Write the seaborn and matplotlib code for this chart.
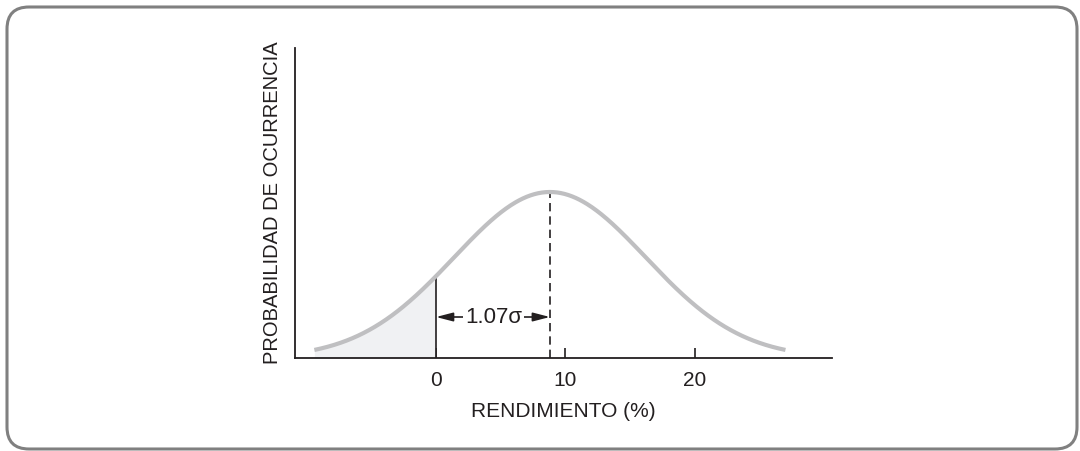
import numpy as np
import pandas as pd
import matplotlib
matplotlib.use("Agg")
import matplotlib.pyplot as plt
from matplotlib.patches import FancyBboxPatch
from matplotlib.transforms import IdentityTransform
import seaborn as sns

# ---- data ----
RETURN_MEAN = 8.8          # expected return (%), position of the peak
RETURN_SD = 7.4            # spread of the drawn curve (%)
CURVE_HALF_SPAN = 18.2     # curve drawn from mean - span to mean + span
THRESHOLD = 0.0            # shaded tail: returns below 0 %
X_TICKS = [0, 10, 20]
X_TICK_LABELS = ["0", "10", "20"]
X_LIMITS = [-10.9, 30.6]
DISTANCE_LABEL = "1.07\u03c3"
X_LABEL = "RENDIMIENTO (%)"
Y_LABEL = "PROBABILIDAD DE OCURRENCIA"

# ---- curve ----
x = np.linspace(RETURN_MEAN - CURVE_HALF_SPAN, RETURN_MEAN + CURVE_HALF_SPAN, 500)
pdf = np.exp(-0.5 * ((x - RETURN_MEAN) / RETURN_SD) ** 2) / (RETURN_SD * np.sqrt(2 * np.pi))
df = pd.DataFrame({"rendimiento": x, "densidad": pdf})
peak = pdf.max()
y_top = peak * 310 / 166

sns.set_theme(style="white")
plt.rcParams["font.family"] = ["Liberation Sans", "DejaVu Sans"]
TXT = "#231f20"

fig = plt.figure(figsize=(10.8, 4.51), dpi=100)
ax = fig.add_axes([0.2731, 0.2062, 0.7704 - 0.2731, 0.8936 - 0.2062])

# shaded tail
tail = df[df["rendimiento"] <= THRESHOLD]
ax.fill_between(tail["rendimiento"], 0, tail["densidad"], color="#f0f1f3", lw=0, zorder=1)

sns.lineplot(data=df, x="rendimiento", y="densidad", ax=ax, color="#bfbfc1",
             lw=3.0, zorder=3, solid_capstyle="butt")

# vertical line at threshold
y_thr = np.interp(THRESHOLD, x, pdf)
ax.plot([THRESHOLD, THRESHOLD], [0, y_thr], color=TXT, lw=1.2, zorder=2)
# dashed line at mean
ax.plot([RETURN_MEAN, RETURN_MEAN], [0, peak], color=TXT, lw=1.2,
        ls=(0, (5, 3)), zorder=2)

# distance annotation
y_arr = y_top * 41 / 310
ax.annotate("", xy=(THRESHOLD, y_arr), xytext=(RETURN_MEAN, y_arr),
            arrowprops=dict(arrowstyle="<|-|>,head_length=0.85,head_width=0.22",
                            color=TXT, lw=1.2, shrinkA=0, shrinkB=0), zorder=4)
ax.text((THRESHOLD + RETURN_MEAN) / 2 + 0.05, y_arr, DISTANCE_LABEL, ha="center", va="center",
        fontsize=16, color=TXT, zorder=5,
        bbox=dict(boxstyle="square,pad=0.08", fc="white", ec="none"))

ax.set_xlim(*X_LIMITS)
ax.set_ylim(0, y_top)
ax.set_xticks(X_TICKS)
ax.set_xticklabels(X_TICK_LABELS)
ax.set_yticks([])
ax.tick_params(axis="x", direction="in", length=7, width=1.2, color=TXT,
               pad=9, labelsize=15, labelcolor=TXT, bottom=True)
for s in ["top", "right"]:
    ax.spines[s].set_visible(False)
for s in ["left", "bottom"]:
    ax.spines[s].set_color(TXT)
    ax.spines[s].set_linewidth(1.3)
ax.set_xlabel(X_LABEL, fontsize=15, color=TXT, labelpad=9)
ax.set_ylabel(Y_LABEL, fontsize=14.5, color=TXT, labelpad=9)

# rounded frame around the figure
frame = FancyBboxPatch((7, 2), 1070, 442, boxstyle="round,pad=0,rounding_size=22",
                       transform=IdentityTransform(), fc="none", ec="#808080", lw=2.2)
fig.patches.append(frame)

fig.savefig("out.png", dpi=100, facecolor="white")
